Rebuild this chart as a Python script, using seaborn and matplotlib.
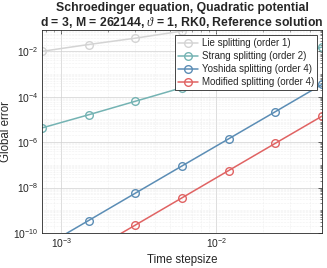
import numpy as np
import matplotlib
matplotlib.use("Agg")
import matplotlib.pyplot as plt
import matplotlib.ticker as mticker
import pandas as pd
import seaborn as sns

# Time stepsizes (halved each refinement)
stepsizes = [7.5e-4, 1.5e-3, 3.0e-3, 6.0e-3, 1.2e-2, 2.4e-2, 4.8e-2]

# Global errors
lie_err = [1.0e-2, 2.0e-2, 3.8e-2, 7.8e-2, 1.6e-1, 3.1e-1, 6.2e-1]
strang_err = [4.2e-6, 1.6e-5, 6.3e-5, 2.5e-4, 9.8e-4, 3.9e-3, 1.55e-2]
yoshida_err = [2.2e-11, 3.5e-10, 5.6e-9, 8.9e-8, 1.4e-6, 2.2e-5, 3.5e-4]
modified_err = [8.9e-13, 1.4e-11, 2.2e-10, 3.5e-9, 5.6e-8, 8.9e-7, 1.4e-5]

labels = ["Lie splitting (order 1)", "Strang splitting (order 2)",
          "Yoshida splitting (order 4)", "Modified splitting (order 4)"]
colors = ["#d4d4d4", "#74b3b3", "#5b8db5", "#e06363"]

sns.set_style("white")
plt.rcParams['font.family'] = ['Liberation Sans', 'DejaVu Sans']
plt.rcParams['mathtext.fontset'] = 'custom'
plt.rcParams['mathtext.rm'] = 'Liberation Sans'
plt.rcParams['mathtext.it'] = 'Liberation Serif:italic'

fig = plt.figure(figsize=(3.27, 2.68), dpi=100)
ax = fig.add_axes([0.128, 0.131, 0.857, 0.757])

#Draw each series as a line with open circle markers
for errs, lab, col in zip([lie_err, strang_err, yoshida_err, modified_err], labels, colors):
	df = pd.DataFrame({'h': stepsizes, 'err': errs})
	sns.lineplot(data=df, x='h', y='err', ax=ax, color=col, label=lab,
	             marker='o', markersize=5.5, markerfacecolor='none',
	             markeredgecolor=col, markeredgewidth=1.0, linewidth=1.1)

ax.set_xscale('log')
ax.set_yscale('log')
ax.set_xlim(stepsizes[0], stepsizes[-1])
ax.set_ylim(1e-10, 10**-1.06)

ax.yaxis.set_major_locator(mticker.FixedLocator([1e-10, 1e-8, 1e-6, 1e-4, 1e-2]))
ax.yaxis.set_minor_locator(mticker.LogLocator(base=10, subs=np.arange(1, 10), numticks=30))
ax.yaxis.set_minor_formatter(mticker.NullFormatter())
ax.xaxis.set_major_locator(mticker.FixedLocator([1e-3, 1e-2]))
ax.xaxis.set_minor_locator(mticker.LogLocator(base=10, subs=np.arange(1, 10), numticks=30))
ax.xaxis.set_minor_formatter(mticker.NullFormatter())

ax.grid(True, which='major', color='#d0d0d0', linewidth=0.5)
ax.grid(True, which='minor', color='#e4e4e4', linewidth=0.4, linestyle=':')
ax.tick_params(which='both', direction='in', top=True, right=True, labelsize=7.4,
               colors='#262626', pad=2.5)
ax.tick_params(which='major', length=3, width=0.5)
ax.tick_params(which='minor', length=1.5, width=0.4)
for s in ax.spines.values():
	s.set_color('#262626')
	s.set_linewidth(0.6)

ax.set_xlabel('Time stepsize', fontsize=8.3, color='#262626', labelpad=3)
ax.set_ylabel('Global error', fontsize=8.3, color='#262626', labelpad=1)
ax.set_title('Schroedinger equation, Quadratic potential\n'
             r'd = 3, M = 262144, $\vartheta$ = 1, RK0, Reference solution',
             fontsize=8.8, fontweight='bold', pad=3, linespacing=1.1)

leg = ax.legend(loc='upper right', fontsize=7.0, frameon=True, fancybox=False,
                edgecolor='#262626', framealpha=1, borderpad=0.35, labelspacing=0.3,
                handlelength=2.0, handletextpad=0.4, borderaxespad=0.5)
leg.get_frame().set_linewidth(0.6)

fig.savefig('out.png', dpi=100)
